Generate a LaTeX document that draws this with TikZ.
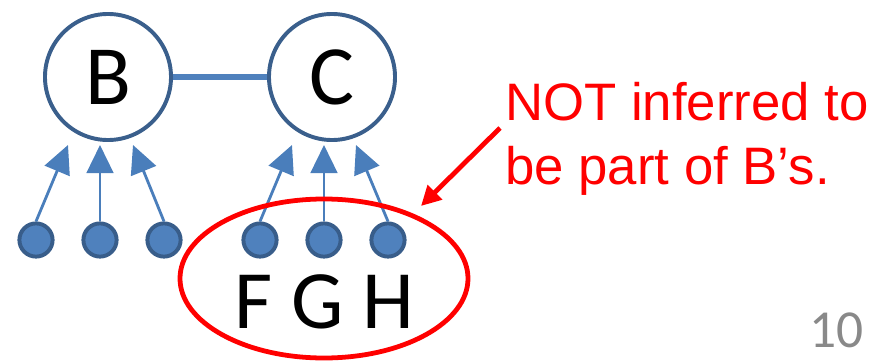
\documentclass[tikz,border=0pt]{standalone}
\usepackage{fontspec}
\setmainfont{Carlito}
\newfontfamily\notefont{Liberation Sans}
\usetikzlibrary{arrows.meta}

\definecolor{ringblue}{RGB}{58,95,140}
\definecolor{dotblue}{RGB}{79,129,189}
\definecolor{dotedge}{RGB}{56,93,138}
\definecolor{arrowblue}{RGB}{74,126,187}
\definecolor{pagegray}{RGB}{137,137,137}

\begin{document}
\begin{tikzpicture}[x=0.025cm, y=-0.025cm,
    bignode/.style={circle, draw=ringblue, line width=2.8pt, inner sep=0pt,
      minimum size=3.15cm, font=\fontsize{60}{72}\selectfont},
    dotnode/.style={circle, draw=dotedge, fill=dotblue, line width=2.8pt,
      inner sep=0pt, minimum size=0.83cm},
    parent/.style={draw=arrowblue, line width=2pt,
      -{Triangle[width=19pt, length=20pt]}},
    redring/.style={draw=red, line width=3.4pt},
    pointer/.style={draw=red, line width=3.4pt,
      -{Triangle[width=14pt, length=14pt]}}]

    % Fix the page to the reference size
    \useasboundingbox (0,0) rectangle (888,361);

    % The two big nodes and the link between them
    \node[bignode] (B) at (108,77) {B};
    \node[bignode] (C) at (332,77) {C};
    \draw[draw=dotblue, line width=4.6pt] (B) -- (C);

    % The small dots below, three for each big node
    \node[dotnode] (b1) at (36,240) {};
    \node[dotnode] (b2) at (100,240) {};
    \node[dotnode] (b3) at (164,240) {};
    \node[dotnode] (c1) at (260,240) {};
    \node[dotnode] (c2) at (324,240) {};
    \node[dotnode] (c3) at (388,240) {};

    % Arrow tips just under the big nodes
    \coordinate (tb1) at (68,145);
    \coordinate (tb2) at (100,145);
    \coordinate (tb3) at (133,145);
    \coordinate (tc1) at (292,145);
    \coordinate (tc2) at (324,145);
    \coordinate (tc3) at (356,145);

    % Draw the arrows from the dots up to the big nodes
    \draw[parent] (b1.north) -- (tb1);
    \draw[parent] (b2.north) -- (tb2);
    \draw[parent] (b3.north) -- (tb3);
    \draw[parent] (c1.north) -- (tc1);
    \draw[parent] (c2.north) -- (tc2);
    \draw[parent] (c3.north) -- (tc3);

    % Labels of the right dots and the red ring round them
    \node[font=\fontsize{59}{72}\selectfont] (FGH) at (324,302) {F G H};
    \draw[redring] (324,278.5) ellipse (144 and 79.5);
    \coordinate (ringtop) at (421,206);

    % Red remark with its arrow
    \node[anchor=base west, inner sep=0pt, text=red,
      font=\notefont\fontsize{37.5}{45}\selectfont] (note1) at (505,120) {NOT inferred to};
    \node[anchor=base west, inner sep=0pt, text=red,
      font=\notefont\fontsize{37.5}{45}\selectfont] (note2) at (505,184) {be part of B’s.};
    \coordinate (tail) at (500,128);
    \draw[pointer] (tail) -- (ringtop);

    % Slide number
    \node[anchor=base east, inner sep=0pt, text=pagegray,
      font=\fontsize{38}{45}\selectfont] (page) at (864,347) {10};

\end{tikzpicture}
\end{document}
